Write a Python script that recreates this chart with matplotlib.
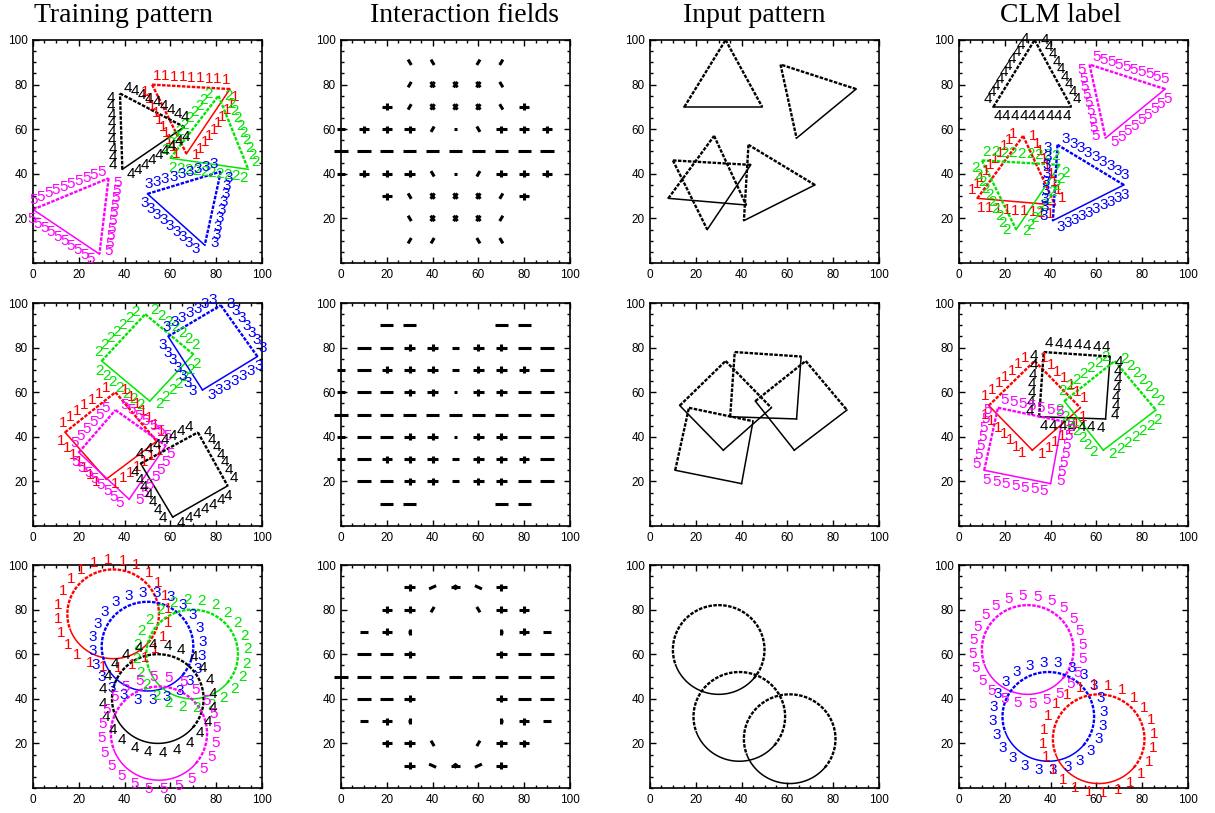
import numpy as np
import matplotlib.pyplot as plt
from matplotlib.ticker import MultipleLocator

# colours of the five CLM labels
COLORS = {'1': '#ff0000', '2': '#00e600', '3': '#0000ff', '4': '#000000', '5': '#ff00ff'}

# ---- row 1 : triangles (vertex order: first two edges dotted, closing edge solid)
tri_train = [[(86, 78), (52, 80), (67, 49)],
             [(60, 47), (81, 75), (94, 42)],
             [(50, 31), (82, 41), (75, 8)],
             [(39, 42), (38, 76), (66, 61)],
             [(0, 24), (33, 38), (29, 4)]]
tri_train_lab = ['1', '2', '3', '4', '5']

tri_test = [[(15, 70), (33, 100), (49, 70)],
            [(90, 78), (57, 89), (64, 56)],
            [(8, 29), (28, 57), (42, 26)],
            [(44, 44), (10, 46), (25, 15)],
            [(72, 35), (43, 53), (41, 19)]]
tri_test_lab = ['4', '5', '1', '2', '3']

# ---- row 2 : squares
sq_train = [[(30, 74), (49, 95), (70, 77), (51, 56)],
            [(59, 85), (82, 99), (98, 76), (74, 61)],
            [(14, 42), (36, 60), (54, 38), (32, 21)],
            [(20, 33), (36, 52), (58, 36), (42, 12)],
            [(47, 28), (72, 42), (85, 18), (61, 4)]]
sq_train_lab = ['2', '3', '1', '5', '4']

sq_test = [[(13, 54), (33, 74), (53, 53), (32, 34)],
           [(35, 49), (37, 78), (66, 76), (64, 48)],
           [(46, 56), (68, 74), (86, 52), (63, 34)],
           [(11, 25), (17, 53), (45, 47), (40, 19)]]
sq_test_lab = ['1', '4', '2', '5']

# ---- row 3 : circles (centre x, centre y, radius)
circ_train_x = [35, 50, 69.5, 54.5, 55]
circ_train_y = [78, 63.5, 60, 40, 24.5]
circ_train_r = [20, 20, 20, 20, 21]
circ_train_lab = ['1', '3', '2', '4', '5']

circ_test_x = [30, 39, 61]
circ_test_y = [62, 32, 22]
circ_test_r = [20, 20, 20]
circ_test_lab = ['5', '3', '1']

# ---- interaction fields, rows y = 90 .. 10, columns x = 0 .. 90
# '-' long dash, 's' short dash, '+' dash with tick, 'x' cross, '/' rising,
# 'b' falling, 'p'/'q' shallow rising/falling, 'o' dot, 'i' small vertical, 'z' bow tie
field_y = [90, 80, 70, 60, 50, 40, 30, 20, 10]
field_x = [0, 10, 20, 30, 40, 50, 60, 70, 80, 90]
field_tri = ["   bb //  ",
             "   /xxxb  ",
             "  +/xxxb+ ",
             "s+++/ob+++",
             "----------",
             "s+++bo/+++",
             "  +bxxx/+ ",
             "   bxxx/  ",
             "   // bb  "]
field_sq = ["  --   -- ",
            " --++s++--",
            "s-+++s+++-",
            "s--++o++--",
            "----------",
            "s--++o++--",
            "s-+++s+++-",
            " --++s++--",
            "  --   -- "]
field_circ = ["   +pzq+  ",
              "  ++/ b++ ",
              " s+i   i+s",
              " --+   +--",
              "----------",
              " --+   +--",
              " s+i   i+s",
              "  ++b /++ ",
              "   +qzp+  "]

MARKS = {'-': [(0, 5.8)], 's': [(0, 3.4)], '+': [(0, 4.6), (90, 3.2)],
         'x': [(55, 3.0), (125, 3.0)], '/': [(60, 2.8)], 'b': [(120, 2.8)],
         'p': [(25, 3.4)], 'q': [(155, 3.4)], 'o': [(0, 1.2)],
         'i': [(90, 2.8), (0, 1.4)], 'z': [(0, 4.0), (60, 2.2), (120, 2.2)]}

titles = ['Training pattern', 'Interaction fields', 'Input pattern', 'CLM label']
title_px = [123, 465, 754, 1061]

DOT = (0, (1.5, 0.6))


def draw_poly(ax, verts, color, n_dotted):
    p = np.array(verts + [verts[0]], dtype=float)
    for i in range(len(verts)):
        if i < n_dotted:
            ax.plot(p[i:i + 2, 0], p[i:i + 2, 1], color=color, lw=1.7, ls=DOT)
        else:
            ax.plot(p[i:i + 2, 0], p[i:i + 2, 1], color=color, lw=1.1)


def label_poly(ax, verts, digit, spacing=3.6, off=4.0):
    p = np.array(verts, dtype=float)
    c = p.mean(axis=0)
    for i in range(len(p)):
        a, b = p[i], p[(i + 1) % len(p)]
        d = b - a
        L = np.hypot(*d)
        nrm = np.array([-d[1], d[0]]) / L
        if np.dot(nrm, (a + b) / 2 - c) < 0:
            nrm = -nrm
        n = max(3, int(round(L / spacing)))
        for t in (np.arange(n) + 0.5) / n:
            q = a + t * d + off * nrm
            ax.text(q[0], q[1], digit, color=COLORS[digit], fontsize=11,
                    ha='center', va='center', family='Liberation Sans', clip_on=False)


def draw_circle(ax, cx, cy, r, color):
    t1 = np.radians(np.linspace(320, 560, 120))
    t2 = np.radians(np.linspace(200, 320, 60))
    ax.plot(cx + r * np.cos(t1), cy + r * np.sin(t1), color=color, lw=1.7, ls=DOT)
    ax.plot(cx + r * np.cos(t2), cy + r * np.sin(t2), color=color, lw=1.1)


def label_circle(ax, cx, cy, r, digit, n=24, off=4.2):
    for t in np.radians(np.arange(n) * 360 / n + 5):
        ax.text(cx + (r + off) * np.cos(t), cy + (r + off) * np.sin(t), digit,
                color=COLORS[digit], fontsize=11, ha='center', va='center',
                family='Liberation Sans', clip_on=False)


def draw_field(ax, grid):
    for row, y in zip(grid, field_y):
        for code, x in zip(row, field_x):
            if code == ' ':
                continue
            for ang, L in MARKS[code]:
                dx = 0.5 * L * np.cos(np.radians(ang))
                dy = 0.5 * L * np.sin(np.radians(ang))
                ax.plot([x - dx, x + dx], [y - dy, y + dy], color='black',
                        lw=2.2, solid_capstyle='butt', clip_on=False)


fig = plt.figure(figsize=(12.15, 8.13), dpi=100)
W, H = 1215, 813
col_left = [33, 341, 650, 959]
row_top = [40, 303, 565]
axw, axh = 229, 223

axes = []
for r in range(3):
    row = []
    for c in range(4):
        ax = fig.add_axes([col_left[c] / W, 1 - (row_top[r] + axh) / H, axw / W, axh / H])
        ax.set_xlim(0, 100)
        ax.set_ylim(0, 100)
        ax.set_xticks([0, 20, 40, 60, 80, 100])
        ax.set_yticks([20, 40, 60, 80, 100])
        ax.xaxis.set_minor_locator(MultipleLocator(5))
        ax.yaxis.set_minor_locator(MultipleLocator(5))
        ax.tick_params(which='both', direction='in', top=True, right=True,
                       labelsize=8.5, width=1.0, pad=4)
        ax.tick_params(which='major', length=4)
        ax.tick_params(which='minor', length=2)
        for lab in ax.get_xticklabels() + ax.get_yticklabels():
            lab.set_family('Liberation Sans')
        for s in ax.spines.values():
            s.set_linewidth(1.2)
        row.append(ax)
    axes.append(row)

for c in range(4):
    fig.text(title_px[c] / W, 1 - 16 / H, titles[c], ha='center', va='center',
             fontsize=20, family='Liberation Serif')

# row 1 : triangles
for v, d in zip(tri_train, tri_train_lab):
    draw_poly(axes[0][0], v, COLORS[d], 2)
    label_poly(axes[0][0], v, d)
draw_field(axes[0][1], field_tri)
for v in tri_test:
    draw_poly(axes[0][2], v, 'black', 2)
for v, d in zip(tri_test, tri_test_lab):
    draw_poly(axes[0][3], v, COLORS[d], 2)
    label_poly(axes[0][3], v, d)

# row 2 : squares
for v, d in zip(sq_train, sq_train_lab):
    draw_poly(axes[1][0], v, COLORS[d], 2)
    label_poly(axes[1][0], v, d, spacing=4.0)
draw_field(axes[1][1], field_sq)
for v in sq_test:
    draw_poly(axes[1][2], v, 'black', 2)
for v, d in zip(sq_test, sq_test_lab):
    draw_poly(axes[1][3], v, COLORS[d], 2)
    label_poly(axes[1][3], v, d, spacing=4.0)

# row 3 : circles
for cx, cy, r, d in zip(circ_train_x, circ_train_y, circ_train_r, circ_train_lab):
    draw_circle(axes[2][0], cx, cy, r, COLORS[d])
    label_circle(axes[2][0], cx, cy, r, d)
draw_field(axes[2][1], field_circ)
for cx, cy, r in zip(circ_test_x, circ_test_y, circ_test_r):
    draw_circle(axes[2][2], cx, cy, r, 'black')
for cx, cy, r, d in zip(circ_test_x, circ_test_y, circ_test_r, circ_test_lab):
    draw_circle(axes[2][3], cx, cy, r, COLORS[d])
    label_circle(axes[2][3], cx, cy, r, d)

fig.savefig('out.png', dpi=100)
